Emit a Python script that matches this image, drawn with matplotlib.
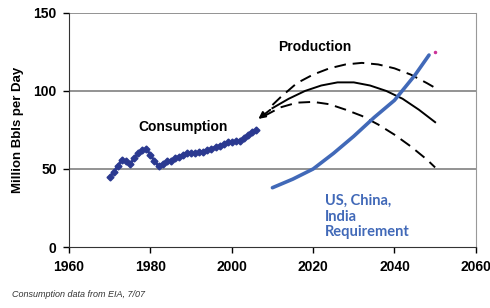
import matplotlib.pyplot as plt

plt.rcParams['font.family'] = ['Liberation Sans', 'DejaVu Sans']

# World oil consumption (million bbl/day)
cons_years = list(range(1970, 2007))
cons_vals = [45, 48, 52, 56, 55, 53, 57, 60, 62, 63, 59, 55, 52, 53, 55, 55,
             57, 58, 59, 60, 60, 60, 61, 61, 62, 63, 64, 65, 66, 67, 67, 68,
             68, 70, 72, 74, 75]

# Production scenarios
prod_years = [2006, 2010, 2014, 2018, 2022, 2026, 2030, 2034, 2038, 2042, 2046, 2050]
prod_mid = [81, 89, 95, 100, 103.5, 105.5, 105.5, 103.5, 100, 95, 88, 80]

high_years = [2010, 2012, 2016, 2020, 2024, 2028, 2032, 2036, 2040, 2044, 2048, 2050]
prod_high = [91, 96, 105, 110.5, 114.5, 117, 118, 117, 114.5, 110.5, 105, 102]

low_years = [2008, 2012, 2016, 2020, 2024, 2028, 2032, 2036, 2040, 2044, 2048, 2050]
prod_low = [84, 89.5, 92.5, 93, 91.5, 88, 84, 78.5, 72, 64.5, 56, 51]

# US, China, India requirement
req_years = [2010, 2015, 2020, 2025, 2030, 2035, 2040, 2045, 2048.5]
req_vals = [38, 43.5, 50, 60, 71, 83, 94, 110, 123]

navy = '#2b3990'
blue = '#4169b8'

fig = plt.figure(figsize=(4.9, 3.08), dpi=100)
ax = fig.add_axes([0.141, 0.198, 0.83, 0.76])

ax.plot(cons_years, cons_vals, color=navy, marker='D', markersize=3.5, lw=2)

ax.plot(prod_years[1:], prod_mid[1:], color='black', lw=1.4)
ax.annotate('', xy=(prod_years[0], prod_mid[0]), xytext=(prod_years[1], prod_mid[1]),
            arrowprops=dict(arrowstyle='-|>', color='black', lw=1.4, mutation_scale=10))
ax.plot(high_years, prod_high, color='black', lw=1.4, ls=(0, (6, 3.5)))
ax.plot(low_years, prod_low, color='black', lw=1.4, ls=(0, (6, 3.5)))

ax.plot(req_years, req_vals, color=blue, lw=2.6, solid_capstyle='round')
ax.plot([2050], [125], marker='o', markersize=1.5, color='#cc3399')

ax.set_xlim(1960, 2060)
ax.set_ylim(0, 150)
ax.set_xticks([1960, 1980, 2000, 2020, 2040, 2060])
ax.set_yticks([0, 50, 100, 150])
for y in [50, 100, 150]:
    ax.axhline(y, color='#808080', lw=1.2, zorder=0)

for lab in ax.get_xticklabels() + ax.get_yticklabels():
    lab.set_fontweight('bold')
    lab.set_fontsize(10)
ax.tick_params(axis='both', direction='out', length=4, width=1, pad=5)
ax.spines['left'].set_color('#333333')
ax.spines['bottom'].set_color('#333333')
ax.spines['right'].set_color('#999999')
ax.spines['top'].set_visible(False)

ax.set_ylabel('Million Bbls per Day', fontsize=9.5, fontweight='bold', labelpad=7)

ax.text(1988, 77, 'Consumption', fontsize=10, fontweight='bold', ha='center', va='center')
ax.text(2020.5, 128, 'Production', fontsize=10, fontweight='bold', ha='center', va='center')
ax.text(2023, 34, 'US, China,\nIndia\nRequirement', fontsize=10.5, fontweight='bold',
        color=blue, ha='left', va='top', linespacing=1.15, family='Lato')

fig.text(0.025, 0.035, 'Consumption data from EIA, 7/07', fontsize=6.5, style='italic',
         color='#333333')

fig.savefig('out.png', dpi=100)
